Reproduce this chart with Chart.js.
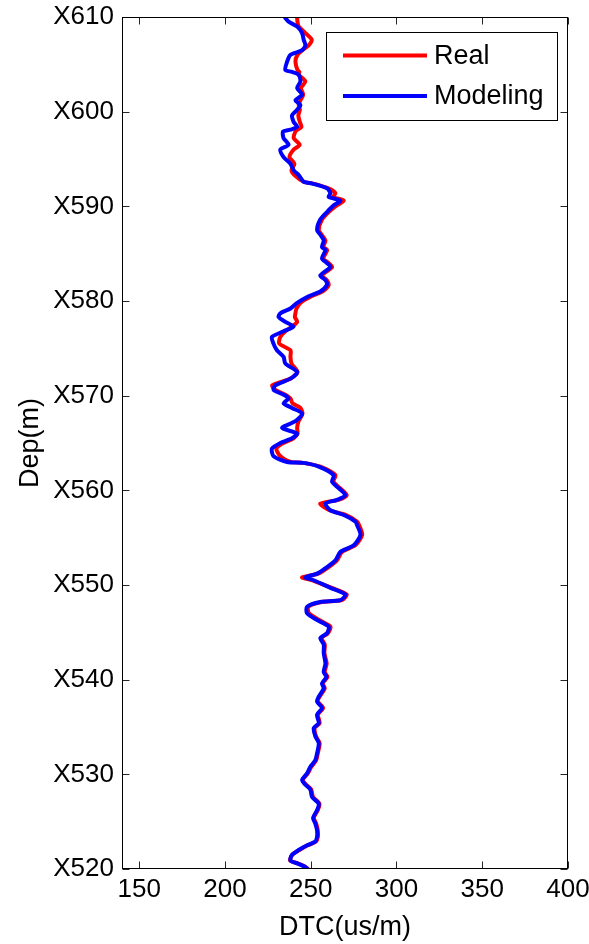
<!DOCTYPE html>
<html>
<head>
<meta charset="utf-8">
<script src="https://cdn.jsdelivr.net/npm/chart.js@4.4.1/dist/chart.umd.min.js"></script>
<style>
    html, body { margin: 0; padding: 0; background: #fff; }
    #wrap { width: 589px; height: 944px; }
</style>
</head>
<body>
<div id="wrap"><canvas id="myChart"></canvas></div>
<script>
// depth in metres (X-prefixed on the axis), top to bottom
const depth = [
    609.9, 609.5, 609.0, 608.3, 607.6, 607.0, 606.5, 606.0, 605.3, 604.4,
    604.2, 603.9, 603.2, 602.5, 601.8, 601.2, 600.7, 600.2, 599.6, 598.9,
    598.4, 598.1, 597.9, 597.2, 596.5, 596.0, 595.2, 594.5, 593.8, 593.3,
    592.6, 592.4, 591.9, 591.4, 591.0, 590.6, 590.1, 589.4, 588.6, 587.5,
    587.0, 586.4, 585.7, 585.4, 584.5, 584.0, 583.6, 582.7, 582.2, 581.7,
    581.0, 580.5, 579.8, 579.2, 578.7, 578.3, 577.8, 577.3, 576.8, 576.2,
    575.5, 574.8, 574.1, 573.4, 572.5, 571.8, 571.1, 570.6, 570.1, 569.7,
    569.2, 568.7, 568.1, 567.3, 566.6, 566.0, 565.5, 565.0, 564.4, 563.6,
    563.0, 562.9, 562.5, 561.6, 560.9, 559.5, 559.0, 558.6, 557.9, 557.4,
    556.7, 556.3, 555.3, 554.2, 553.5, 552.6, 551.9, 551.2, 550.8, 550.5,
    549.7, 549.0, 548.4, 548.2, 547.7, 547.0, 546.3, 545.6, 544.9, 544.4,
    543.7, 542.8, 541.7, 540.8, 540.3, 539.6, 539.1, 538.2, 537.7, 537.0,
    536.3, 535.4, 534.9, 534.0, 533.3, 532.2, 531.5, 530.8, 530.1, 529.4,
    528.9, 528.4, 527.6, 526.9, 526.2, 525.4, 524.8, 524.1, 523.4, 522.9,
    522.5, 522.0, 521.5, 520.9, 520.6, 520.2, 519.7
];

// DTC (us/m), measured log
const real = [
    242.1, 242.3, 243.0, 246.9, 250.6, 248.8, 245.2, 242.3, 241.1, 242.3,
    243.4, 243.0, 246.9, 244.3, 245.6, 244.0, 243.0, 243.7, 242.8, 243.7,
    244.6, 242.3, 241.1, 240.1, 243.6, 240.1, 237.6, 240.5, 238.8, 240.5,
    245.9, 251.6, 260.3, 264.4, 263.2, 269.3, 265.2, 260.5, 256.6, 254.7,
    256.4, 258.6, 257.4, 259.6, 257.4, 260.5, 262.5, 256.6, 259.4, 260.5,
    256.8, 250.4, 244.0, 241.7, 241.1, 240.8, 242.1, 239.1, 235.2, 232.3,
    231.7, 238.2, 238.2, 238.8, 242.3, 238.2, 227.6, 229.4, 235.2, 238.2,
    239.4, 244.0, 245.2, 242.9, 242.1, 242.3, 240.0, 234.1, 230.0, 232.3,
    238.2, 245.8, 255.6, 264.4, 263.3, 271.0, 266.2, 255.6, 261.0, 270.3,
    277.0, 278.3, 280.0, 276.0, 268.2, 265.3, 260.5, 254.4, 245.0, 251.0,
    262.3, 271.0, 268.2, 256.4, 248.6, 249.0, 255.0, 261.5, 260.0, 256.4,
    258.2, 258.0, 259.3, 258.2, 259.8, 257.0, 258.2, 255.2, 254.1, 257.2,
    254.2, 255.2, 252.3, 253.1, 255.2, 254.1, 253.2, 250.4, 248.3, 245.4,
    247.4, 250.3, 251.4, 255.1, 254.1, 251.8, 253.2, 254.1, 254.2, 253.1,
    248.3, 243.4, 239.3, 238.0, 242.4, 247.2, 250.0
];

// DTC (us/m), modelled
const modeling = [
    235.2, 237.1, 242.1, 245.0, 245.9, 246.9, 245.0, 238.2, 236.3, 235.2,
    239.1, 243.0, 244.0, 242.1, 245.0, 241.1, 244.0, 242.1, 239.1, 240.1,
    242.1, 238.2, 233.9, 234.2, 237.1, 232.3, 234.2, 238.2, 240.1, 243.0,
    245.9, 251.0, 259.5, 261.5, 260.5, 267.3, 263.4, 259.5, 255.6, 253.7,
    255.6, 257.6, 256.6, 258.6, 256.6, 259.5, 261.5, 255.6, 258.6, 259.5,
    255.6, 248.8, 242.1, 238.2, 232.3, 231.3, 235.2, 240.0, 234.2, 227.4,
    228.3, 230.3, 234.2, 235.2, 242.1, 238.2, 229.4, 228.4, 234.2, 237.1,
    234.2, 239.1, 245.0, 241.1, 233.3, 242.1, 239.1, 232.3, 227.4, 228.4,
    236.2, 245.9, 254.7, 263.4, 262.5, 270.2, 265.4, 258.6, 261.5, 269.3,
    276.1, 277.1, 279.0, 275.1, 267.3, 264.4, 259.5, 253.7, 246.9, 251.7,
    261.5, 270.2, 267.3, 255.6, 247.9, 247.9, 253.7, 260.5, 259.5, 255.6,
    257.6, 257.6, 258.6, 257.6, 259.2, 256.6, 257.6, 254.7, 253.7, 256.6,
    253.7, 254.7, 251.8, 252.7, 254.7, 253.7, 252.7, 249.8, 247.9, 245.0,
    246.9, 249.8, 250.8, 254.7, 253.7, 251.4, 252.7, 253.7, 253.7, 252.7,
    247.9, 243.0, 239.1, 238.2, 242.1, 246.9, 249.8
];

const depthTicks = [520, 530, 540, 550, 560, 570, 580, 590, 600, 610];
const dtcTicks = [150, 200, 250, 300, 350, 400];

const tickFont = { family: "'Liberation Sans', Arial, sans-serif", size: 26 };
const textFont = { family: "'Liberation Sans', Arial, sans-serif", size: 27 };

// box round the axes, with Matlab-style ticks pointing inward on all four sides
const frameTicks = {
    id: 'frameTicks',
    afterDatasetsDraw(chart) {
        const { ctx, chartArea: a, scales } = chart;
        const l = Math.round(a.left) + 0.5, r = Math.round(a.right) - 0.5;
        const t = Math.round(a.top) + 0.5, b = Math.round(a.bottom) - 0.5;
        ctx.save();
        ctx.strokeStyle = '#262626';
        ctx.lineWidth = 1;
        ctx.beginPath();
        scales.x.ticks.forEach(tick => {
            const px = Math.round(scales.x.getPixelForValue(tick.value)) + 0.5;
            ctx.moveTo(px, b); ctx.lineTo(px, b - 7);
            ctx.moveTo(px, t); ctx.lineTo(px, t + 7);
        });
        scales.y.ticks.forEach(tick => {
            const py = Math.round(scales.y.getPixelForValue(tick.value)) + 0.5;
            ctx.moveTo(l, py); ctx.lineTo(l + 7, py);
            ctx.moveTo(r, py); ctx.lineTo(r - 7, py);
        });
        ctx.stroke();
        ctx.strokeStyle = '#000';
        ctx.strokeRect(l, t, r - l, b - t);
        ctx.restore();
    }
};

const legendBox = {
    id: 'legendBox',
    afterDraw(chart) {
        const { ctx, chartArea: a } = chart;
        const x0 = Math.round(a.right) - 242, y0 = Math.round(a.top) + 15;
        const w = 231, h = 88;
        ctx.save();
        ctx.fillStyle = '#fff';
        ctx.fillRect(x0, y0, w, h);
        ctx.strokeStyle = '#000';
        ctx.lineWidth = 1;
        ctx.strokeRect(x0 + 0.5, y0 + 0.5, w, h);
        ctx.font = `${textFont.size}px ${textFont.family}`;
        ctx.textBaseline = 'middle';
        ctx.fillStyle = '#000';
        chart.data.datasets.forEach((ds, i) => {
            const ly = y0 + 23.5 + i * 40.5;
            ctx.strokeStyle = ds.borderColor;
            ctx.lineWidth = 4;
            ctx.beginPath();
            ctx.moveTo(x0 + 17, ly);
            ctx.lineTo(x0 + 101, ly);
            ctx.stroke();
            ctx.fillText(ds.label, x0 + 108, ly + 1);
        });
        ctx.restore();
    }
};

const ctx = document.getElementById('myChart').getContext('2d');

const lineStyle = {
    borderWidth: 4,
    showLine: true,
    pointRadius: 0,
    tension: 0.25,
    borderJoinStyle: 'round',
    borderCapStyle: 'round',
    clip: 0
};

new Chart(ctx, {
    type: 'scatter',
    data: {
        datasets: [{
            ...lineStyle,
            label: 'Real',
            data: depth.map((d, i) => ({ x: real[i], y: d })),
            borderColor: '#ff0000',
            backgroundColor: '#ff0000',
            order: 2
        }, {
            ...lineStyle,
            label: 'Modeling',
            data: depth.map((d, i) => ({ x: modeling[i], y: d })),
            borderColor: '#0000ff',
            backgroundColor: '#0000ff',
            order: 1
        }]
    },
    options: {
        responsive: true,
        maintainAspectRatio: false,
        animation: false,
        layout: { padding: { left: 0, right: 21, top: 17, bottom: 0 } },
        plugins: {
            legend: { display: false },
            tooltip: { enabled: false }
        },
        scales: {
            x: {
                type: 'linear',
                min: 140,
                max: 400,
                grid: { display: false, drawTicks: false },
                border: { display: false },
                afterBuildTicks: scale => { scale.ticks = dtcTicks.map(v => ({ value: v })); },
                afterFit: scale => { scale.height = 75; scale.paddingLeft = 0; scale.paddingRight = 0; },
                ticks: { color: '#000', font: tickFont, padding: 5, maxRotation: 0 },
                title: { display: true, text: 'DTC(us/m)', color: '#000', font: textFont, padding: { top: 0, bottom: 0 } }
            },
            y: {
                type: 'linear',
                min: 520,
                max: 610,
                grid: { display: false, drawTicks: false },
                border: { display: false },
                afterBuildTicks: scale => { scale.ticks = depthTicks.map(v => ({ value: v })); },
                afterFit: scale => { scale.width = 122; scale.paddingTop = 0; scale.paddingBottom = 0; },
                ticks: { color: '#000', font: tickFont, padding: 8, callback: v => 'X' + v },
                title: { display: true, text: 'Dep(m)', color: '#000', font: textFont, padding: { top: 14, bottom: 14 } }
            }
        }
    },
    plugins: [frameTicks, legendBox]
});
</script>
</body>
</html>
